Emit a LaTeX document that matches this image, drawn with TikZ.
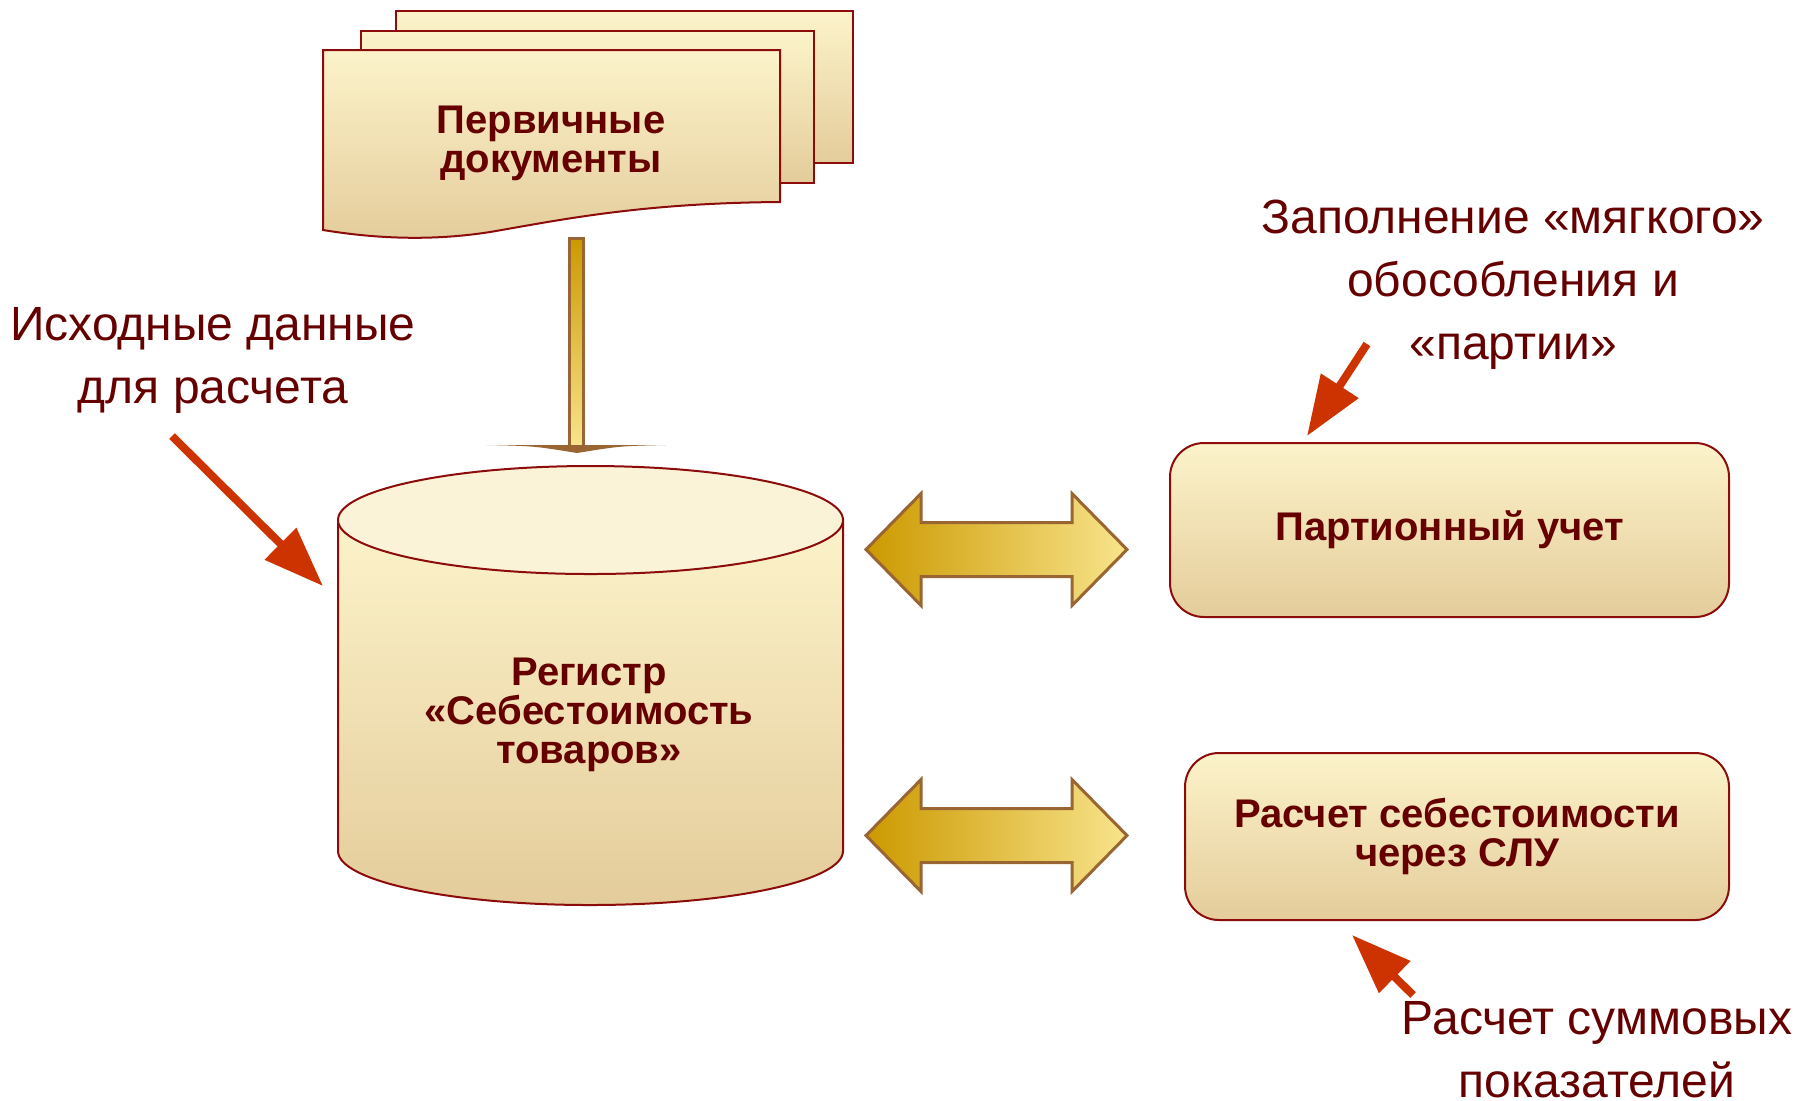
\documentclass[tikz,border=0pt]{standalone}
\usepackage{fontspec}
\setmainfont{Liberation Sans}
\usetikzlibrary{arrows.meta, positioning}

\definecolor{textmaroon}{RGB}{102,0,0}
\definecolor{edgemaroon}{RGB}{140,12,12}
\definecolor{calloutred}{RGB}{204,51,0}
\definecolor{goldedge}{RGB}{153,102,51}
\definecolor{golddark}{RGB}{204,153,0}
\definecolor{goldlight}{RGB}{248,228,140}
\definecolor{paperlight}{RGB}{252,243,202}
\definecolor{paperdark}{RGB}{228,204,155}
\definecolor{papertop}{RGB}{251,243,216}

\begin{document}
\begin{tikzpicture}[
        x=0.5pt, y=-0.5pt,
        paper/.style={
            draw=edgemaroon, line width=1pt,
            top color=paperlight, bottom color=paperdark
        },
        process/.style={
            paper, rectangle, rounded corners=17pt, inner sep=0pt,
            text centered, align=center, text=textmaroon,
            font=\bfseries\fontsize{20}{19.5}\selectfont
        },
        label/.style={
            text=textmaroon, align=center, inner sep=0pt,
            font=\bfseries\fontsize{20}{19.5}\selectfont
        },
        note/.style={
            text=textmaroon, align=center, inner sep=0pt,
            font=\fontsize{24}{31.5}\selectfont
        },
        callout/.style={-{Triangle[length=30pt, width=21.5pt]}, line width=4pt, calloutred},
        fatarrow/.style={draw=goldedge, line width=1.5pt, left color=golddark, right color=goldlight},
        shaft/.style={draw=goldedge, line width=1.5pt, top color=golddark, bottom color=goldlight},
    ]
    \useasboundingbox (0,0) rectangle (1798,1100);

    % ── Primary documents (stack of sheets) ──
    \node[paper, minimum width=228.5pt, minimum height=76pt] (sheetback) at (624.5,87) {};
    \node[paper, minimum width=226.5pt, minimum height=76pt] (sheetmid) at (587.5,107) {};
    \draw[paper] (323,50) -- (780,50) -- (780,202)
        .. controls (640,203) and (560,220) .. (490,232)
        .. controls (420,243) and (360,236) .. (323,230) -- cycle;
    \node[label] (docs) at (551,143) {Первичные\\документы};

    % ── Register (cylinder) ──
    \draw[paper] (338,520) -- (338,851)
        .. controls (338,881) and (451,905) .. (590,905)
        .. controls (729,905) and (843,881) .. (843,851) -- (843,520) -- cycle;
    \draw[edgemaroon, line width=1pt, fill=papertop] (590.5,520) ellipse [x radius=252.5, y radius=54];
    \node[label] (reg) at (589,715) {Регистр\\«Себестоимость\\товаров»};

    % ── Right-hand blocks ──
    \node[process, minimum width=279.5pt, minimum height=87pt] (batch) at (1449.5,530) {\raisebox{-1.5pt}{Партионный учет}};
    \node[process, minimum width=272pt, minimum height=83.5pt] (slu) at (1457,836.5) {Расчет себестоимости\\через СЛУ};

    % ── Documents -> register ──
    \coordinate (docs-out) at (576.5,238);
    \coordinate (reg-in) at (576.5,446);
    \draw[shaft] ([xshift=-3.3pt]docs-out) rectangle ([xshift=3.3pt]reg-in);
    \fill[goldedge] (487,445) -- (666,445) .. controls (620,446) .. (577,453)
        .. controls (534,446) .. (487,445) -- cycle;

    % ── Register <-> blocks ──
    \foreach \y in {549.5, 835.5} {
        \draw[fatarrow] (866,\y) -- ++(55,-56) -- ++(0,29) -- ++(151,0) -- ++(0,-29)
            -- ++(55,56) -- ++(-55,56) -- ++(0,-29) -- ++(-151,0) -- ++(0,29) -- cycle;
    }

    % ── Notes ──
    \node[note] (src) at (213,360) {Исходные данные\\для расчета};
    \node[note] (fill) at (1513,285) {Заполнение «мягкого»\\обособления и\\«партии»};
    \node[note] (sums) at (1597,1050) {Расчет суммовых\\показателей};

    \coordinate (src-from) at (172,436);
    \coordinate (reg-tip) at (323,586);
    \coordinate (fill-from) at (1367,344);
    \coordinate (batch-tip) at (1307,436);
    \coordinate (sums-from) at (1413,995);
    \coordinate (slu-tip) at (1352,935);

    \draw[callout] (src-from) -- (reg-tip);
    \draw[callout] (fill-from) -- (batch-tip);
    \draw[callout] (sums-from) -- (slu-tip);

\end{tikzpicture}
\end{document}
